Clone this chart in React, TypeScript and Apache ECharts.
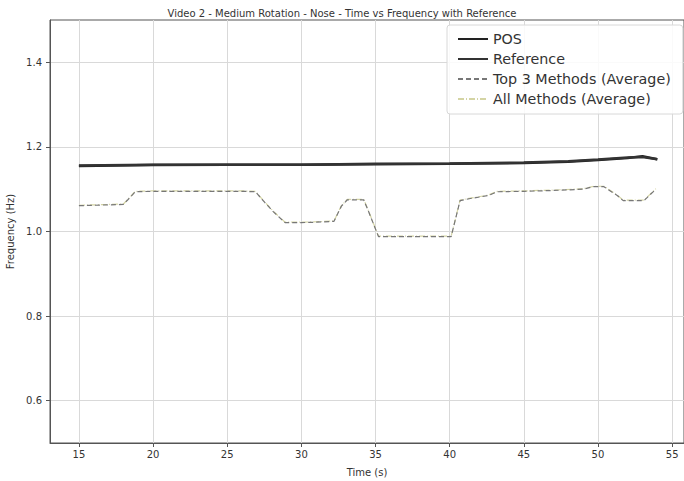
import React, { useEffect, useRef } from "react";
import * as echarts from "echarts";

const titleText = "Video 2 - Medium Rotation - Nose - Time vs Frequency with Reference";
const xTicks = [15, 20, 25, 30, 35, 40, 45, 50, 55];
const yTicks = [0.6, 0.8, 1.0, 1.2, 1.4];

const posTimes = [15, 20, 25, 30, 35, 40, 45, 48, 50, 52, 53, 54];
const posValues = [1.155, 1.157, 1.158, 1.158, 1.159, 1.16, 1.162, 1.165, 1.169, 1.174, 1.178, 1.171];

const refTimes = [15, 20, 25, 30, 35, 40, 45, 48, 50, 52, 53, 54];
const refValues = [1.156, 1.158, 1.158, 1.158, 1.16, 1.161, 1.163, 1.166, 1.17, 1.175, 1.176, 1.171];

const top3Times = [15, 16, 17, 18, 18.3, 18.8, 20, 22, 24, 26, 26.9, 27.5, 28.1, 28.9, 30, 31, 32.2, 32.7, 33.1, 34.2, 34.5, 35.2, 36, 38, 40.1, 40.7, 41.4, 42.6, 43.2, 45, 47, 49, 49.7, 50.4, 51.3, 51.7, 53.1, 53.9];
const top3Values = [1.061, 1.062, 1.063, 1.064, 1.075, 1.094, 1.095, 1.095, 1.095, 1.095, 1.094, 1.07, 1.047, 1.021, 1.021, 1.022, 1.024, 1.06, 1.075, 1.075, 1.05, 0.988, 0.988, 0.988, 0.988, 1.073, 1.078, 1.085, 1.094, 1.095, 1.097, 1.1, 1.106, 1.106, 1.085, 1.073, 1.073, 1.1];

const allTimes = [15, 16, 17, 18, 18.3, 18.8, 20, 22, 24, 26, 26.9, 27.5, 28.1, 28.9, 30, 31, 32.2, 32.7, 33.1, 34.2, 34.5, 35.2, 36, 38, 40.1, 40.7, 41.4, 42.6, 43.2, 45, 47, 49, 49.7, 50.4, 51.3, 51.7, 53.1, 53.9];
const allValues = [1.062, 1.063, 1.064, 1.065, 1.076, 1.095, 1.096, 1.096, 1.096, 1.096, 1.095, 1.071, 1.048, 1.022, 1.022, 1.023, 1.025, 1.061, 1.076, 1.076, 1.051, 0.989, 0.989, 0.989, 0.989, 1.074, 1.079, 1.086, 1.095, 1.096, 1.098, 1.101, 1.107, 1.107, 1.086, 1.074, 1.074, 1.101];

const pairs = (xs: number[], ys: number[]) => xs.map((x, i) => [x, ys[i]]);

export default function App() {
  const ref = useRef<HTMLDivElement>(null);
  useEffect(() => {
    if (!ref.current) return;
    const chart = echarts.init(ref.current, undefined, { renderer: "svg" });
    const font = "DejaVu Sans";
    chart.setOption({
      animation: false,
      backgroundColor: "#ffffff",
      title: {
        text: titleText,
        left: "center",
        top: 3,
        textStyle: { fontFamily: font, fontSize: 10, fontWeight: "normal", color: "#333" },
      },
      legend: {
        orient: "vertical",
        left: 447,
        top: 25,
        itemWidth: 30,
        itemHeight: 14,
        itemGap: 6,
        padding: [7, 12, 8, 10],
        backgroundColor: "rgba(255,255,255,0.85)",
        borderColor: "#d8d8d8",
        borderWidth: 1,
        borderRadius: 3,
        itemStyle: { opacity: 0 },
        textStyle: { fontFamily: font, fontSize: 14.3, color: "#333" },
        data: ["POS", "Reference", "Top 3 Methods (Average)", "All Methods (Average)"],
      },
      grid: {
        left: 50,
        top: 20,
        width: 634,
        height: 423,
        show: true,
        borderColor: "#555",
        borderWidth: 1,
        containLabel: false,
        outerBoundsMode: "none",
      },
      xAxis: {
        type: "value",
        min: 13.05,
        max: 55.8,
        name: "Time (s)",
        nameLocation: "middle",
        nameGap: 24,
        nameTextStyle: { fontFamily: font, fontSize: 10, color: "#333" },
        axisLine: { show: true, lineStyle: { color: "#555" } },
        axisTick: { show: true, length: 4, customValues: xTicks, lineStyle: { color: "#555" } },
        axisLabel: { customValues: xTicks, fontFamily: font, fontSize: 10, color: "#333", margin: 6 },
        splitLine: { show: true, lineStyle: { color: "#d9d9d9", width: 1 } },
      },
      yAxis: {
        type: "value",
        min: 0.5,
        max: 1.5,
        name: "Frequency (Hz)",
        nameLocation: "middle",
        nameGap: 33,
        nameTextStyle: { fontFamily: font, fontSize: 10, color: "#333" },
        axisLine: { show: true, lineStyle: { color: "#555" } },
        axisTick: { show: true, length: 4, customValues: yTicks, lineStyle: { color: "#555" } },
        axisLabel: {
          customValues: yTicks,
          fontFamily: font,
          fontSize: 10,
          color: "#333",
          margin: 8,
          formatter: (v: number) => v.toFixed(1),
        },
        splitLine: { show: true, lineStyle: { color: "#d9d9d9", width: 1 } },
      },
      series: [
        {
          name: "POS",
          type: "line",
          data: pairs(posTimes, posValues),
          showSymbol: false,
          symbol: "none",
          lineStyle: { color: "#222", width: 2.5 },
          itemStyle: { color: "#222" },
          z: 4,
        },
        {
          name: "Reference",
          type: "line",
          data: pairs(refTimes, refValues),
          showSymbol: false,
          symbol: "none",
          lineStyle: { color: "#333", width: 2.5 },
          itemStyle: { color: "#333" },
          z: 4,
        },
        {
          name: "Top 3 Methods (Average)",
          type: "line",
          data: pairs(top3Times, top3Values),
          showSymbol: false,
          symbol: "none",
          lineStyle: { color: "#777", width: 1.2, type: [5, 3] },
          itemStyle: { color: "#777" },
          z: 3,
        },
        {
          name: "All Methods (Average)",
          type: "line",
          data: pairs(allTimes, allValues),
          showSymbol: false,
          symbol: "none",
          lineStyle: { color: "#d4d4a4", width: 1.2, type: [6, 2, 1, 2] },
          itemStyle: { color: "#d4d4a4" },
          z: 2,
        },
      ],
    });
    return () => chart.dispose();
  }, []);
  return <div ref={ref} style={{ width: 684, height: 481, position: "absolute", left: 0, top: 0 }} />;
}
